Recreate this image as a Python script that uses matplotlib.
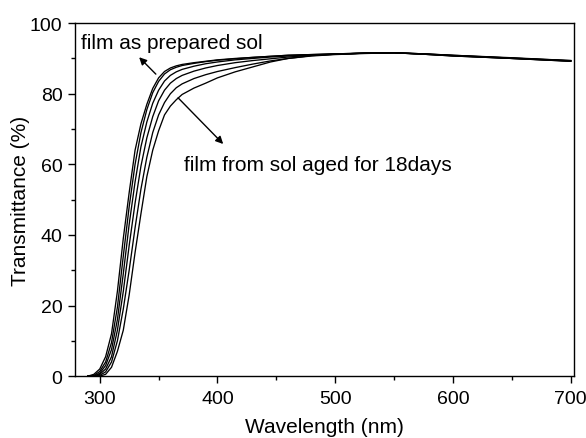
import numpy as np
import matplotlib.pyplot as plt
from matplotlib.ticker import MultipleLocator

plt.rcParams['font.family'] = ['Liberation Sans', 'DejaVu Sans']

# Wavelength grid (nm)
wl = [290, 295, 300, 305, 310, 315, 320, 325, 330, 335, 340, 345, 350, 355, 360, 365,
      370, 380, 390, 400, 415, 430, 445, 460, 480, 500, 525, 550, 575, 600, 650, 700]

# Transmittance (%) - film from fresh sol -> film from sol aged 18 days
t1 = [0, 0.5, 2, 5.5, 12, 24, 39, 52, 64, 71.5, 77, 81.5, 84.5, 86.3, 87.3, 87.9,
      88.3, 88.8, 89.2, 89.6, 90.0, 90.3, 90.6, 90.9, 91.1, 91.3, 91.5, 91.6, 91.3, 90.9, 90.2, 89.4]
t2 = [0, 0.2, 1.3, 4, 9.5, 19.5, 34, 48, 60, 69, 75.5, 80.3, 83.5, 85.6, 86.8, 87.5,
      88.0, 88.6, 89.1, 89.5, 89.9, 90.3, 90.6, 90.9, 91.1, 91.3, 91.5, 91.6, 91.3, 90.9, 90.1, 89.4]
t3 = [0, 0, 0.8, 3, 7.5, 16, 29, 43, 55, 65, 72, 77.3, 81, 83.6, 85.2, 86.2,
      86.9, 87.8, 88.5, 89.0, 89.6, 90.0, 90.4, 90.7, 91.0, 91.2, 91.5, 91.6, 91.3, 90.8, 90.1, 89.3]
t4 = [0, 0, 0.5, 2, 5.5, 13, 24, 37, 49, 59.5, 67.5, 73.5, 78, 81, 83, 84.3,
      85.2, 86.4, 87.3, 88.0, 88.8, 89.4, 89.9, 90.4, 90.9, 91.2, 91.5, 91.6, 91.2, 90.8, 90.0, 89.3]
t5 = [0, 0, 0.2, 1.2, 4, 10, 19, 30, 42, 53, 62, 69, 74, 77.5, 80, 81.7,
      82.8, 84.3, 85.4, 86.3, 87.4, 88.4, 89.3, 90.0, 90.7, 91.1, 91.4, 91.6, 91.2, 90.7, 90.0, 89.2]
t6 = [0, 0, 0, 0.5, 2.5, 7, 13, 23, 35, 46, 56.5, 64, 69.5, 74, 76.5, 78.3,
      79.8, 81.6, 83.0, 84.5, 86.2, 87.6, 89.0, 90.0, 90.8, 91.2, 91.5, 91.6, 91.2, 90.7, 90.0, 89.2]

fig = plt.figure(figsize=(5.86, 4.39), dpi=100)
ax = fig.add_axes([0.128, 0.141, 0.852, 0.804])

for t in [t1, t2, t3, t4, t5, t6]:
    ax.plot(wl, t, color='black', linewidth=0.95)

ax.set_xlim(279, 703)
ax.set_ylim(0, 100)
ax.xaxis.set_major_locator(MultipleLocator(100))
ax.xaxis.set_minor_locator(MultipleLocator(50))
ax.yaxis.set_major_locator(MultipleLocator(20))
ax.yaxis.set_minor_locator(MultipleLocator(10))
ax.tick_params(which='both', direction='out', top=False, right=False, labelsize=14)
ax.tick_params(which='major', length=5, width=1)
ax.tick_params(which='minor', length=3, width=1)
ax.tick_params(axis='x', which='major', pad=5)
ax.tick_params(axis='y', which='major', pad=4)
for s in ax.spines.values():
    s.set_linewidth(1)

ax.set_xlabel('Wavelength (nm)', fontsize=15, labelpad=7)
ax.set_ylabel('Transmittance (%)', fontsize=15, labelpad=0)

ax.text(284, 94.6, 'film as prepared sol', fontsize=15, va='center', ha='left')
ax.annotate('', xy=(331.8, 90.9), xytext=(349.3, 85),
            arrowprops=dict(arrowstyle='-|>', color='black', lw=1, mutation_scale=11))
ax.text(371.4, 60, 'film from sol aged for 18days', fontsize=15, va='center', ha='left')
ax.annotate('', xy=(406.5, 65.2), xytext=(364.9, 79.4),
            arrowprops=dict(arrowstyle='-|>', color='black', lw=1, mutation_scale=11))

fig.savefig('out.png', dpi=100)
